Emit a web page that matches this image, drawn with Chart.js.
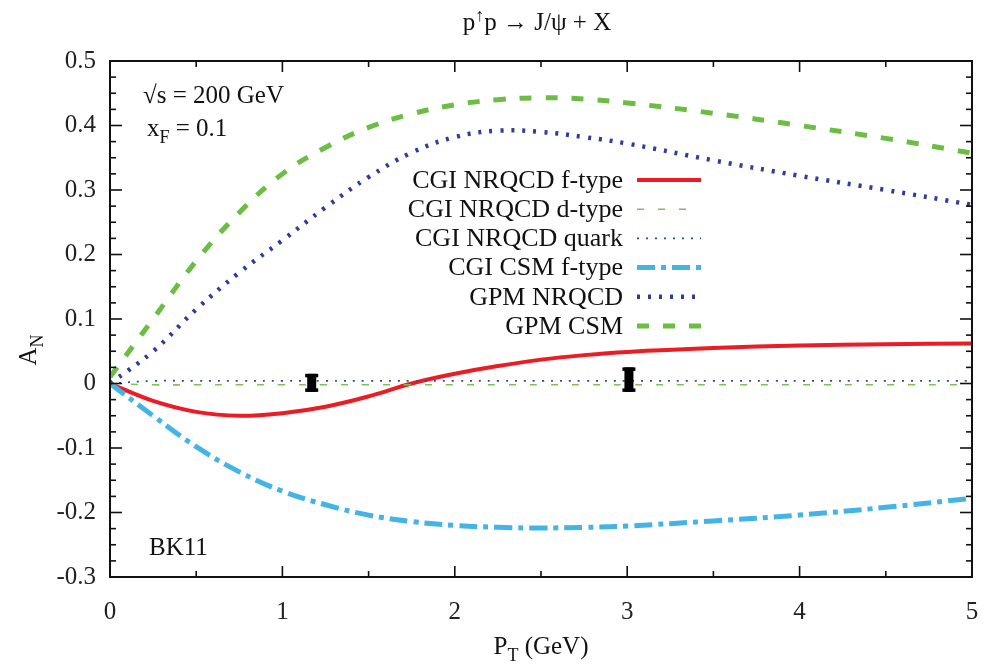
<!DOCTYPE html>
<html>
<head>
<meta charset="utf-8">
<script src="https://cdn.jsdelivr.net/npm/chart.js@4.4.1/dist/chart.umd.min.js"></script>
<style>
  html, body { margin: 0; padding: 0; background: #fff; }
</style>
</head>
<body>
<canvas id="c" width="984" height="668"></canvas>
<script>
// ---- data (A_N vs P_T)
const ptGrid        = [0, 0.25, 0.5, 0.75, 1, 1.25, 1.5, 1.75, 2, 2.25, 2.5, 2.75, 3, 3.5, 4, 4.5, 5];
const cgiNrqcdF     = [0, -0.027, -0.044, -0.050, -0.046, -0.036, -0.020, 0.000, 0.015, 0.027, 0.037, 0.044, 0.049, 0.055, 0.059, 0.061, 0.062];
const cgiNrqcdD     = [0, -0.002, -0.002, -0.002, -0.002, -0.002, -0.002, -0.002, -0.002, -0.002, -0.002, -0.002, -0.002, -0.002, -0.002, -0.002, -0.002];
const cgiNrqcdQuark = [0, 0.004, 0.004, 0.004, 0.004, 0.004, 0.004, 0.004, 0.004, 0.004, 0.004, 0.004, 0.004, 0.004, 0.004, 0.004, 0.004];
const cgiCsmF       = [0, -0.050, -0.098, -0.137, -0.167, -0.188, -0.204, -0.214, -0.220, -0.223, -0.224, -0.223, -0.221, -0.213, -0.204, -0.192, -0.178];
const gpmNrqcd      = [0, 0.050, 0.115, 0.172, 0.222, 0.273, 0.320, 0.358, 0.382, 0.392, 0.390, 0.382, 0.372, 0.346, 0.322, 0.300, 0.277];
const gpmCsm        = [0.010, 0.100, 0.190, 0.265, 0.325, 0.366, 0.397, 0.418, 0.432, 0.440, 0.443, 0.441, 0.435, 0.419, 0.400, 0.380, 0.357];

// data points with errors
const dataPt  = [1.17, 3.01];
const dataAN  = [0.001, 0.006];
const dataErr = [0.014, 0.019];

const seriesNames = [
  "CGI NRQCD f-type", "CGI NRQCD d-type", "CGI NRQCD quark",
  "CGI CSM f-type", "GPM NRQCD", "GPM CSM"
];
const yTicks = [-0.3, -0.2, -0.1, 0, 0.1, 0.2, 0.3, 0.4, 0.5];
const xTicks = [0, 1, 2, 3, 4, 5];

const SERIF = "'Liberation Serif', 'DejaVu Serif', serif";
const pts = (ys) => ptGrid.map((x, i) => ({ x, y: ys[i] }));

function curve(label, ys, color, width, dash) {
  return {
    label, data: pts(ys), borderColor: color, backgroundColor: color,
    borderWidth: width, borderDash: dash, borderCapStyle: "butt",
    pointRadius: 0, fill: false, tension: 0.4, showLine: true
  };
}

const datasets = [
  curve(seriesNames[1], cgiNrqcdD, "#7cc255", 1.6, [7, 14]),
  curve(seriesNames[2], cgiNrqcdQuark, "#3645a3", 1.8, [2, 7]),
  curve(seriesNames[4], gpmNrqcd, "#2d3e9a", 4.5, [3, 8]),
  curve(seriesNames[5], gpmCsm, "#6cbd44", 5, [12, 14]),
  curve(seriesNames[3], cgiCsmF, "#44b3e6", 5, [18, 6, 5, 6]),
  curve(seriesNames[0], cgiNrqcdF, "#ec1c24", 4, []),
  {
    label: "data", data: dataPt.map((x, i) => ({ x, y: dataAN[i] })),
    showLine: false, pointStyle: "rect", pointRadius: 4,
    backgroundColor: "#000", borderColor: "#000"
  }
];

// draw a string made of plain / sub / sup parts
function rich(ctx, parts, x, y, size, align) {
  const small = Math.round(size * 0.7);
  const fontOf = (p) => `${p.s ? small : size}px ${SERIF}`;
  let w = 0;
  parts.forEach(p => { ctx.font = fontOf(p); w += ctx.measureText(p.t).width; });
  let cx = align === "center" ? x - w / 2 : align === "right" ? x - w : x;
  ctx.textAlign = "left";
  ctx.textBaseline = "alphabetic";
  parts.forEach(p => {
    ctx.font = fontOf(p);
    const dy = p.s === "sub" ? size * 0.28 : p.s === "sup" ? -size * 0.38 : 0;
    ctx.fillText(p.t, cx, y + dy);
    cx += ctx.measureText(p.t).width;
  });
}

const decor = {
  id: "decor",
  afterDraw(chart) {
    const { ctx, chartArea: a, scales: { x, y } } = chart;
    ctx.save();
    ctx.strokeStyle = "#111";
    ctx.fillStyle = "#111";

    // frame
    ctx.lineWidth = 2;
    ctx.strokeRect(a.left, a.top, a.right - a.left, a.bottom - a.top);

    // inward ticks on all four sides
    ctx.lineWidth = 1.6;
    const seg = (x1, y1, x2, y2) => { ctx.beginPath(); ctx.moveTo(x1, y1); ctx.lineTo(x2, y2); ctx.stroke(); };
    for (let i = 0; i <= 10; i++) {
      const px = x.getPixelForValue(i * 0.5);
      const len = i % 2 === 0 ? 11 : 6;
      seg(px, a.bottom, px, a.bottom - len);
      seg(px, a.top, px, a.top + len);
    }
    for (let i = 0; i <= 32; i++) {
      const py = y.getPixelForValue(-0.3 + i * 0.025);
      const len = i % 4 === 0 ? 12 : 6;
      seg(a.left, py, a.left + len, py);
      seg(a.right, py, a.right - len, py);
    }

    // error bars on the data points
    ctx.fillStyle = "#000";
    dataPt.forEach((v, i) => {
      const px = x.getPixelForValue(v);
      const top = y.getPixelForValue(dataAN[i] + dataErr[i]);
      const bot = y.getPixelForValue(dataAN[i] - dataErr[i]);
      ctx.fillRect(px - 4.5, top, 9, bot - top);
      ctx.fillRect(px - 6.5, top, 13, 3.5);
      ctx.fillRect(px - 6.5, bot - 3.5, 13, 3.5);
    });

    // legend (right-aligned text, sample line to the right)
    ctx.fillStyle = "#111";
    const order = [5, 0, 1, 4, 2, 3];
    order.forEach((di, row) => {
      const ds = chart.data.datasets[di];
      const cy = 180 + row * 29.2;
      ctx.font = `26px ${SERIF}`;
      ctx.textAlign = "right";
      ctx.textBaseline = "middle";
      ctx.fillText(ds.label, 623, cy + 1);
      ctx.save();
      ctx.strokeStyle = ds.borderColor;
      ctx.lineWidth = ds.borderWidth;
      ctx.setLineDash(ds.borderDash || []);
      ctx.beginPath();
      ctx.moveTo(637, cy);
      ctx.lineTo(ds.label === seriesNames[1] ? 690 : 701, cy);
      ctx.stroke();
      ctx.restore();
    });

    // texts
    ctx.fillStyle = "#111";
    rich(ctx, [{ t: "p" }, { t: "\u2191", s: "sup" }, { t: "p \u2192 J/\u03c8 + X" }], 537, 30, 25, "center");
    rich(ctx, [{ t: "\u221as = 200 GeV" }], 143, 103, 25, "left");
    rich(ctx, [{ t: "x" }, { t: "F", s: "sub" }, { t: " = 0.1" }], 147, 136, 25, "left");
    rich(ctx, [{ t: "BK11" }], 149, 555, 25, "left");
    rich(ctx, [{ t: "P" }, { t: "T", s: "sub" }, { t: " (GeV)" }], 541, 654, 25, "center");
    ctx.save();
    ctx.translate(36, 350);
    ctx.rotate(-Math.PI / 2);
    rich(ctx, [{ t: "A" }, { t: "N", s: "sub" }], 0, 0, 25, "center");
    ctx.restore();

    ctx.restore();
  }
};

new Chart(document.getElementById("c"), {
  type: "scatter",
  data: { datasets },
  plugins: [decor],
  options: {
    responsive: false,
    animation: false,
    devicePixelRatio: 1,
    layout: { padding: { left: 0, right: 12, top: 61, bottom: 0 } },
    plugins: { legend: { display: false }, tooltip: { enabled: false } },
    scales: {
      x: {
        type: "linear", min: 0, max: 5,
        afterBuildTicks: (s) => { s.ticks = xTicks.map(v => ({ value: v })); },
        afterFit: (s) => { s.height = 91; s.paddingLeft = 0; s.paddingRight = 0; },
        grid: { display: true, drawOnChartArea: false, drawTicks: false, color: "transparent" },
        border: { display: false },
        ticks: { padding: 20, color: "#222", font: { family: SERIF, size: 25 }, callback: (v) => String(v) }
      },
      y: {
        type: "linear", min: -0.3, max: 0.5,
        afterBuildTicks: (s) => { s.ticks = yTicks.map(v => ({ value: v })); },
        afterFit: (s) => { s.width = 110; s.paddingTop = 0; s.paddingBottom = 0; },
        grid: { display: true, drawOnChartArea: false, drawTicks: false, color: "transparent" },
        border: { display: false },
        ticks: { padding: 14, color: "#222", font: { family: SERIF, size: 25 }, callback: (v) => String(Math.round(v * 10) / 10) }
      }
    }
  }
});
</script>
</body>
</html>
